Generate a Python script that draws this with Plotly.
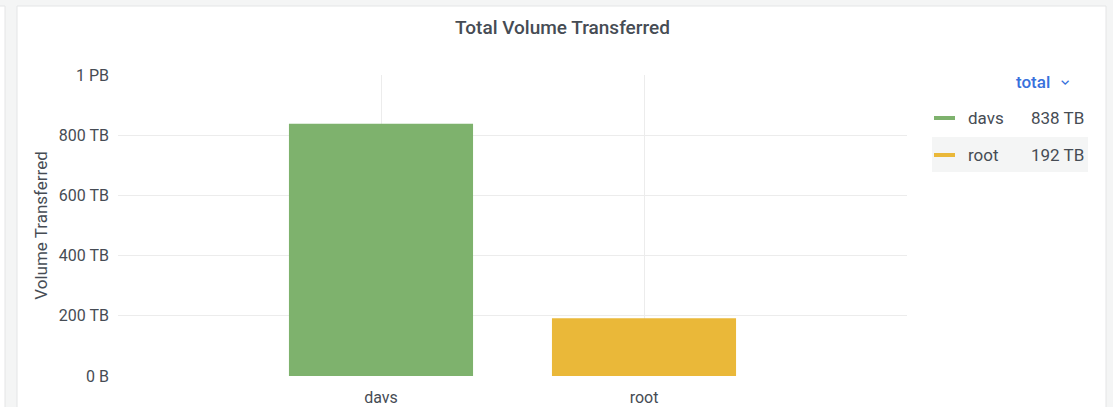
import plotly.graph_objects as go

# ---- data ----
categories = ["davs", "root"]
volumes_tb = [838, 192]
bar_colors = ["#7eb26d", "#eab839"]
tick_vals = [0, 200, 400, 600, 800, 1000]
tick_text = ["0 B", "200 TB", "400 TB", "600 TB", "800 TB", "1 PB"]
legend_values = ["838 TB", "192 TB"]

W, H = 1113, 407
L, R, T, B = 118, 907, 75, 376  # plot area in pixels


def px(x):
    return (x - L) / (R - L)


def py(y):
    return (B - y) / (B - T)


FONT = "Roboto, Inter, Arial, sans-serif"
TXT = "#464c54"

fig = go.Figure()
fig.add_trace(go.Bar(
    x=categories, y=volumes_tb, marker=dict(color=bar_colors, line=dict(width=0)),
    width=0.7, showlegend=False,
))

shapes = [
    dict(type="rect", xref="paper", yref="paper", x0=px(17), x1=px(1106), y0=py(420), y1=py(6),
         fillcolor="white", line=dict(color="#e4e5e6", width=1), layer="below"),
    dict(type="rect", xref="paper", yref="paper", x0=px(-5), x1=px(5), y0=py(420), y1=py(6),
         fillcolor="white", line=dict(color="#e4e5e6", width=1), layer="below"),
    dict(type="rect", xref="paper", yref="paper", x0=px(932), x1=px(1088), y0=py(172), y1=py(137),
         fillcolor="#f4f5f5", line=dict(width=0), layer="below"),
]
annotations = [
    dict(text="Total Volume Transferred", xref="paper", yref="paper", x=px(562), y=py(28),
         showarrow=False, xanchor="center", yanchor="middle",
         font=dict(family=FONT, size=19, color=TXT, weight=500)),
    dict(text="total", xref="paper", yref="paper", x=px(1014), y=py(82),
         showarrow=False, xanchor="left", yanchor="middle",
         font=dict(family=FONT, size=17, color="#3871dc", weight=500)),
    dict(text="⌄", xref="paper", yref="paper", x=px(1058), y=py(80),
         showarrow=False, xanchor="left", yanchor="middle",
         font=dict(family=FONT, size=13, color="#3871dc", weight=500)),
]
rows_y = [118, 155]
for cat, col, val, ry in zip(categories, bar_colors, legend_values, rows_y):
    shapes.append(dict(type="line", xref="paper", yref="paper", x0=px(934), x1=px(955),
                       y0=py(ry), y1=py(ry), line=dict(color=col, width=4)))
    annotations.append(dict(text=cat, xref="paper", yref="paper", x=px(966), y=py(ry),
                            showarrow=False, xanchor="left", yanchor="middle",
                            font=dict(family=FONT, size=17, color=TXT)))
    annotations.append(dict(text=val, xref="paper", yref="paper", x=px(1086), y=py(ry),
                            showarrow=False, xanchor="right", yanchor="middle",
                            font=dict(family=FONT, size=17, color=TXT)))

fig.update_layout(
    width=W, height=H,
    margin=dict(l=L, r=W - R, t=T, b=H - B, pad=0),
    paper_bgcolor="#f4f5f5", plot_bgcolor="rgba(0,0,0,0)",
    font=dict(family=FONT, color=TXT, size=16),
    shapes=shapes, annotations=annotations,
    xaxis=dict(range=[-1, 2], showgrid=True, gridcolor="#ececec", gridwidth=1,
               showline=False, zeroline=False, ticks="", tickfont=dict(size=16, color=TXT),
               ticklabelstandoff=10, automargin=False),
    yaxis=dict(range=[0, 1000], tickvals=tick_vals, ticktext=tick_text,
               showgrid=True, gridcolor="#ececec", gridwidth=1, zeroline=False,
               showline=False, ticks="", tickfont=dict(size=16, color=TXT),
               ticklabelstandoff=8, automargin=False,
               title=dict(text="Volume Transferred", standoff=6,
                          font=dict(family=FONT, size=17, color=TXT))),
    bargap=0.3,
)

fig.write_html(
    "out.html",
    config={"displayModeBar": False},
    post_script="document.body.style.margin='0';document.body.style.padding='0';"
                "document.body.style.background='#f4f5f5';document.body.style.overflow='hidden';",
)
